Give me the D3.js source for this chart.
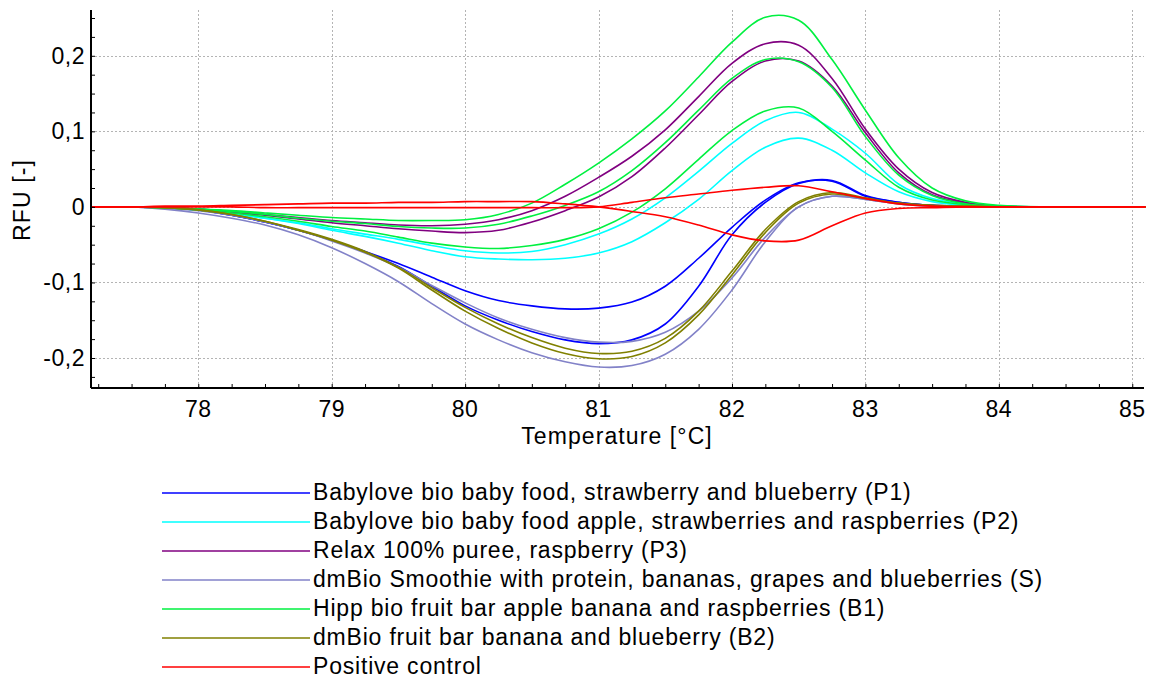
<!DOCTYPE html>
<html>
<head>
<meta charset="utf-8">
<script src="https://cdn.jsdelivr.net/npm/d3@7/dist/d3.min.js"></script>
<style>
  html, body { margin: 0; padding: 0; background: #fff; }
  svg { display: block; }
  text { font-family: "Liberation Sans", Arial, sans-serif; fill: #000; }
</style>
</head>
<body>
<svg id="chart" width="1153" height="679"></svg>
<script>
// Melting-curve derivative data: temperature grid (°C) and RFU per trace
const temperature = [77.2, 77.5, 77.75, 78, 78.25, 78.5, 78.75, 79, 79.25, 79.5, 79.75, 80, 80.25, 80.5, 80.75, 81, 81.25, 81.5, 81.75, 82, 82.25, 82.5, 82.75, 83, 83.25, 83.5, 83.75, 84, 84.5, 85.1];

const p1a = [0, 0, -0.001, -0.004, -0.011, -0.020, -0.031, -0.044, -0.059, -0.075, -0.093, -0.111, -0.124, -0.131, -0.135, -0.134, -0.126, -0.105, -0.068, -0.027, 0.009, 0.032, 0.034, 0.014, 0.006, 0.002, 0.001, 0, 0, 0];
const p1b = [0, 0, -0.001, -0.004, -0.011, -0.020, -0.031, -0.044, -0.060, -0.079, -0.105, -0.131, -0.150, -0.165, -0.176, -0.181, -0.176, -0.155, -0.105, -0.037, 0.006, 0.031, 0.035, 0.015, 0.006, 0.002, 0.001, 0, 0, 0];
const p2a = [0, 0, -0.001, -0.004, -0.009, -0.015, -0.021, -0.029, -0.036, -0.043, -0.051, -0.058, -0.061, -0.059, -0.050, -0.036, -0.016, 0.012, 0.047, 0.084, 0.114, 0.125, 0.103, 0.071, 0.030, 0.011, 0.004, 0.001, 0, 0];
const p2b = [0, 0, -0.001, -0.004, -0.009, -0.015, -0.022, -0.031, -0.039, -0.048, -0.058, -0.066, -0.069, -0.070, -0.068, -0.061, -0.046, -0.021, 0.010, 0.048, 0.079, 0.091, 0.075, 0.045, 0.020, 0.007, 0.002, 0, 0, 0];
const p3a = [0, 0, -0.001, -0.003, -0.006, -0.010, -0.014, -0.018, -0.021, -0.024, -0.025, -0.023, -0.017, -0.005, 0.014, 0.039, 0.067, 0.102, 0.146, 0.190, 0.216, 0.214, 0.170, 0.103, 0.050, 0.019, 0.006, 0.001, 0, 0];
const p3b = [0, 0, -0.001, -0.003, -0.007, -0.011, -0.016, -0.021, -0.025, -0.029, -0.032, -0.034, -0.031, -0.020, -0.005, 0.013, 0.040, 0.078, 0.122, 0.166, 0.193, 0.193, 0.160, 0.098, 0.045, 0.016, 0.005, 0.001, 0, 0];
const sa  = [0, 0, -0.003, -0.008, -0.015, -0.024, -0.037, -0.054, -0.075, -0.099, -0.128, -0.155, -0.176, -0.193, -0.205, -0.212, -0.210, -0.195, -0.162, -0.110, -0.046, 0.000, 0.014, 0.010, 0.004, 0.001, 0, 0, 0, 0];
const sb  = [0, 0, -0.002, -0.005, -0.011, -0.020, -0.031, -0.045, -0.061, -0.080, -0.104, -0.127, -0.147, -0.162, -0.173, -0.179, -0.178, -0.166, -0.138, -0.094, -0.040, 0.000, 0.014, 0.010, 0.004, 0.001, 0, 0, 0, 0];
const b1a = [0, 0, -0.001, -0.003, -0.005, -0.008, -0.011, -0.014, -0.016, -0.018, -0.018, -0.017, -0.010, 0.005, 0.030, 0.058, 0.090, 0.127, 0.172, 0.218, 0.251, 0.247, 0.195, 0.128, 0.065, 0.025, 0.008, 0.002, 0, 0];
const b1b = [0, 0, -0.001, -0.003, -0.006, -0.010, -0.015, -0.019, -0.022, -0.026, -0.028, -0.028, -0.023, -0.012, 0.002, 0.020, 0.048, 0.085, 0.128, 0.170, 0.195, 0.192, 0.158, 0.093, 0.042, 0.015, 0.004, 0.001, 0, 0];
const b1c = [0, 0, -0.001, -0.004, -0.008, -0.013, -0.019, -0.026, -0.032, -0.040, -0.048, -0.053, -0.055, -0.051, -0.043, -0.029, -0.007, 0.024, 0.063, 0.101, 0.127, 0.131, 0.100, 0.062, 0.026, 0.009, 0.003, 0, 0, 0];
const b2a = [0, 0, -0.001, -0.004, -0.010, -0.019, -0.030, -0.043, -0.059, -0.080, -0.107, -0.133, -0.155, -0.173, -0.187, -0.194, -0.191, -0.174, -0.138, -0.085, -0.030, 0.007, 0.019, 0.012, 0.005, 0.002, 0.001, 0, 0, 0];
const b2b = [0, 0, -0.001, -0.004, -0.010, -0.019, -0.031, -0.044, -0.060, -0.081, -0.110, -0.138, -0.161, -0.180, -0.194, -0.201, -0.198, -0.180, -0.143, -0.090, -0.034, 0.005, 0.017, 0.011, 0.005, 0.002, 0.001, 0, 0, 0];
const pcA = [0, 0, 0, 0, 0, -0.001, -0.001, -0.001, -0.001, -0.001, -0.001, -0.001, -0.001, -0.001, -0.001, 0.000, 0.006, 0.012, 0.017, 0.022, 0.026, 0.028, 0.020, 0.011, 0.004, 0.001, 0, 0, 0, 0];
const pcB = [0, 0, 0.001, 0.001, 0.002, 0.003, 0.004, 0.005, 0.005, 0.006, 0.006, 0.007, 0.007, 0.007, 0.004, 0.000, -0.006, -0.013, -0.024, -0.037, -0.045, -0.044, -0.025, -0.008, -0.002, -0.001, 0, 0, 0, 0];

const sampleNames = [
  "Babylove bio baby food, strawberry and blueberry (P1)",
  "Babylove bio baby food apple, strawberries and raspberries (P2)",
  "Relax 100% puree, raspberry (P3)",
  "dmBio Smoothie with protein, bananas, grapes and blueberries (S)",
  "Hipp bio fruit bar apple banana and raspberries (B1)",
  "dmBio fruit bar banana and blueberry (B2)",
  "Positive control"
];
const sampleColors = ["#0000ff", "#00ffff", "#800080", "#8282c8", "#00f040", "#808000", "#ff0000"];
const sampleTraces = [[p1a, p1b], [p2a, p2b], [p3a, p3b], [sa, sb], [b1a, b1b, b1c], [b2a, b2b], [pcA, pcB]];

const xTicksMajor = [78, 79, 80, 81, 82, 83, 84, 85];
const yTicksMajor = [-0.2, -0.1, 0, 0.1, 0.2];

const svg = d3.select("#chart");
const plot = { left: 91, right: 1144, top: 10, bottom: 388 };

const x = d3.scaleLinear().domain([77.196, 85.088]).range([plot.left, plot.right]);
const y = d3.scaleLinear().domain([-0.2397, 0.2606]).range([plot.bottom, plot.top]);

const locale = d3.formatLocale({ decimal: ",", thousands: ".", grouping: [3], currency: ["", ""], minus: "-" });
const fmt = v => v === 0 ? "0" : locale.format(".1f")(v);

// grid
const grid = svg.append("g").attr("stroke", "#b4b4b4").attr("stroke-width", 1).attr("stroke-dasharray", "2,2");
grid.selectAll("line.v").data(xTicksMajor).join("line")
  .attr("x1", d => Math.round(x(d)) + 0.5).attr("x2", d => Math.round(x(d)) + 0.5)
  .attr("y1", plot.top).attr("y2", plot.bottom);
grid.selectAll("line.h").data(yTicksMajor).join("line")
  .attr("y1", d => Math.round(y(d)) + 0.5).attr("y2", d => Math.round(y(d)) + 0.5)
  .attr("x1", plot.left).attr("x2", plot.right);

// traces
const line = d3.line().x((d, i) => x(temperature[i])).y(d => y(d)).curve(d3.curveCatmullRom.alpha(0.5));
const traces = svg.append("g").attr("fill", "none").attr("stroke-width", 1.6);
sampleTraces.forEach((group, gi) => {
  group.forEach(values => {
    traces.append("path").attr("d", line(values)).attr("stroke", sampleColors[gi]);
  });
});

// axes
const xAxis = d3.axisBottom(x).tickValues(d3.range(77.25, 85.01, 0.25)).tickSize(-4).tickFormat("");
const gx = svg.append("g").attr("transform", `translate(0,${plot.bottom})`).call(xAxis);
gx.select(".domain").remove();
gx.selectAll(".tick line").attr("stroke", "#000").attr("stroke-width", 1);
svg.append("line").attr("x1", plot.left).attr("x2", plot.right).attr("y1", plot.bottom).attr("y2", plot.bottom)
  .attr("stroke", "#000").attr("stroke-width", 2);
svg.append("g").selectAll("text").data(xTicksMajor).join("text")
  .attr("x", d => x(d)).attr("y", 417).attr("text-anchor", "middle")
  .style("font-size", "23px").style("letter-spacing", "0.5px").text(d => d);

const yAxis = d3.axisLeft(y).tickValues(d3.range(-0.225, 0.2501, 0.025)).tickSize(-4).tickFormat("");
const gy = svg.append("g").attr("transform", `translate(${plot.left},0)`).call(yAxis);
gy.select(".domain").remove();
gy.selectAll(".tick line").attr("stroke", "#000").attr("stroke-width", 1);
svg.append("line").attr("x1", plot.left).attr("x2", plot.left).attr("y1", plot.top).attr("y2", plot.bottom)
  .attr("stroke", "#000").attr("stroke-width", 2);
svg.append("g").selectAll("text").data(yTicksMajor).join("text")
  .attr("x", 85).attr("y", d => y(d) + 8).attr("text-anchor", "end")
  .style("font-size", "23px").style("letter-spacing", "0.5px").text(d => fmt(d));

svg.append("text").attr("x", 617).attr("y", 444).attr("text-anchor", "middle")
  .style("font-size", "23px").style("letter-spacing", "1.1px").text("Temperature [°C]");
svg.append("text").attr("transform", "translate(30,200) rotate(-90)").attr("text-anchor", "middle")
  .style("font-size", "23px").style("letter-spacing", "1.1px").text("RFU [-]");

// legend
const legend = svg.append("g");
sampleNames.forEach((name, i) => {
  const ly = 493 + i * 29;
  legend.append("line").attr("x1", 162).attr("x2", 310).attr("y1", ly).attr("y2", ly)
    .attr("stroke", sampleColors[i]).attr("stroke-width", 1.6);
  legend.append("text").attr("x", 313).attr("y", ly + 7).style("font-size", "23px")
    .style("letter-spacing", "0.8px").text(name);
});
</script>
</body>
</html>
